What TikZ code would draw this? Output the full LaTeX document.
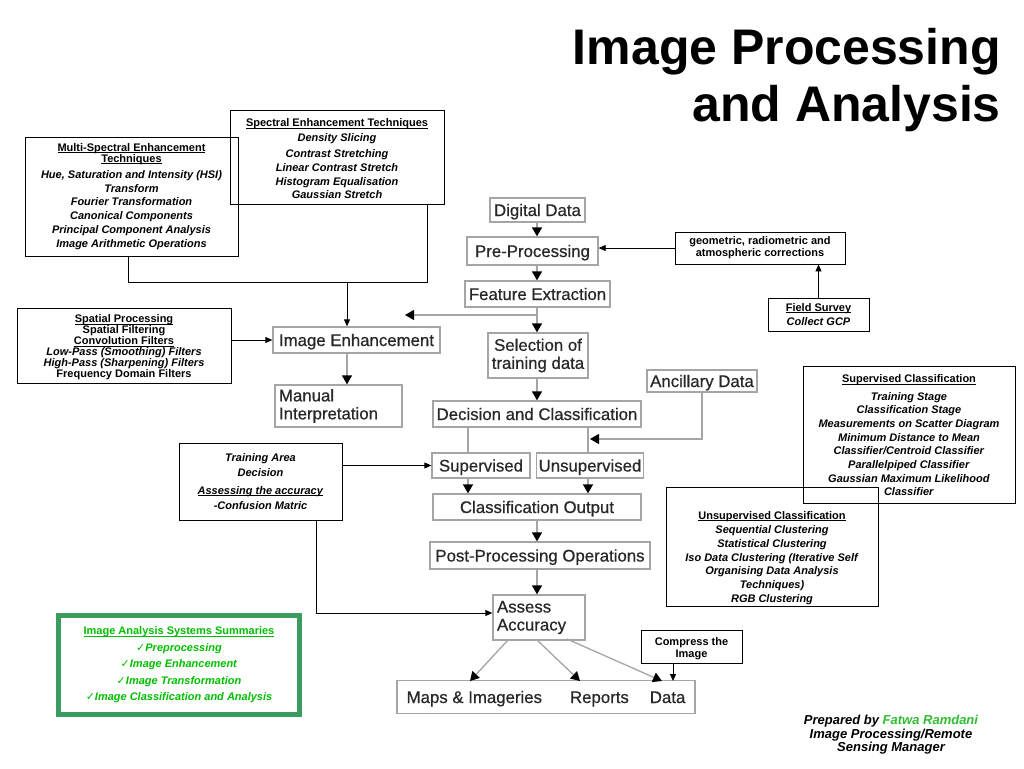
\documentclass[tikz,border=0pt]{standalone}
\usepackage{fontspec}
\setmainfont{Liberation Sans}
\newfontfamily\dejavu{DejaVu Sans}
\newfontfamily\flowfont[FakeBold=0.6]{Liberation Sans}
\usetikzlibrary{arrows.meta,calc}
\definecolor{fgray}{RGB}{165,165,165}
\definecolor{ftext}{RGB}{40,40,40}
\definecolor{gborder}{RGB}{60,155,95}
\definecolor{gtext}{RGB}{0,190,0}
\definecolor{sigreen}{RGB}{50,190,50}
\tikzset{
 fbox/.style={draw=fgray, line width=1.3pt, text=ftext, font=\flowfont\fontsize{16.8}{18}\selectfont, inner sep=2pt},
 fone/.style={fbox, text height=12pt, text depth=0pt},
 sbox/.style={draw=black, line width=0.8pt, align=center, font=\fontsize{11}{13.7}\selectfont\bfseries, inner sep=0pt},
 flow/.style={draw=fgray, line width=1.3pt, -{Triangle[length=9pt,width=10pt,color=black]}},
 gline/.style={draw=fgray, line width=1.3pt},
 barrow/.style={draw=black, line width=0.8pt, -{Triangle[length=7pt,width=6pt]}},
 bline/.style={draw=black, line width=0.8pt},
}
\newcommand{\ck}{{\dejavu\bfseries ✓}}
\newcommand{\myul}[1]{\setbox0\hbox{#1}\rlap{\rule[-1.6pt]{\wd0}{0.7pt}}\box0}
\begin{document}
\begin{tikzpicture}[x=1pt,y=-1pt]
\useasboundingbox[fill=white] (0,0) rectangle (1024,768);

% title
\node[anchor=base east, font=\fontsize{50}{57}\selectfont\bfseries, inner sep=0] (t1) at (1001,64) {Image Processing};
\node[anchor=base east, font=\fontsize{50}{57}\selectfont\bfseries, inner sep=0] (t2) at (1001,121) {and Analysis};

% flowchart boxes
\node[fone, minimum width=95, minimum height=24] (DD) at (537.5,210) {Digital Data};
\node[fone, minimum width=131, minimum height=28] (PP) at (532.5,251) {Pre-Processing};
\node[fone, minimum width=145, minimum height=26] (FE) at (537.5,294) {Feature Extraction};
\node[fbox, minimum width=100, minimum height=45, align=center] (SEL) at (538,355.5) {Selection of\\training data};
\node[fone, minimum width=208, minimum height=26] (DC) at (537,414) {Decision and Classification};
\node[fone, minimum width=110, minimum height=22] (AD) at (702,381) {Ancillary Data};
\node[fone, minimum width=98, minimum height=25] (SUP) at (481,465.5) {Supervised};
\node[fone, minimum width=106, minimum height=25] (UNS) at (590,465.5) {Unsupervised};
\node[fone, minimum width=208, minimum height=26] (CO) at (537,507) {Classification Output};
\node[fone, minimum width=220, minimum height=27] (PPO) at (540,555.5) {Post-Processing Operations};
\node[fbox, minimum width=92, minimum height=45, align=left, text width=84, inner sep=4pt] (AA) at (539,617.5) {Assess\\Accuracy};
\node[fone, minimum width=298, minimum height=33] (OUT) at (546,697) {Maps \& Imageries\hspace{28pt}Reports\hspace{21pt}Data};
\node[fone, minimum width=167, minimum height=26] (IE) at (356.5,340) {Image Enhancement};
\node[fbox, minimum width=127, minimum height=42, align=left, text width=119, inner sep=4pt] (MI) at (338.5,406) {Manual\\Interpretation};

% small black boxes
\node[sbox, minimum width=213, minimum height=119] (MS) at (131.5,196.5)
 {\myul{Multi-Spectral Enhancement}\\[-2.7pt]\myul{Techniques}\\[2.3pt]
  \textit{Hue, Saturation and Intensity (HSI)}\\\textit{Transform}\\\textit{Fourier Transformation}\\
  \textit{Canonical Components}\\\textit{Principal Component Analysis}\\\textit{Image Arithmetic Operations}};
\node[sbox, minimum width=214, minimum height=94, font=\fontsize{11}{14}\selectfont\bfseries] (SE) at (337,157)
 {\rule{0pt}{12pt}\myul{Spectral Enhancement Techniques}\\[1pt]\textit{Density Slicing}\\[2pt]\textit{Contrast Stretching}\\
  \textit{Linear Contrast Stretch}\\\textit{Histogram Equalisation}\\[-1pt]\textit{Gaussian Stretch}};
\node[sbox, minimum width=214, minimum height=75, font=\fontsize{11}{11}\selectfont\bfseries] (SPA) at (124,345.5)
 {\rule{0pt}{12pt}\myul{Spatial Processing}\\Spatial Filtering\\\myul{Convolution Filters}\\
  \textit{Low-Pass (Smoothing) Filters}\\\textit{High-Pass (Sharpening) Filters}\\Frequency Domain Filters};
\node[sbox, minimum width=170, minimum height=32, font=\fontsize{11}{12}\selectfont\bfseries] (GEO) at (760,248)
 {geometric, radiometric and\\atmospheric corrections};
\node[sbox, minimum width=101, minimum height=33, font=\fontsize{11}{14}\selectfont\bfseries] (FS) at (818.5,314.5)
 {\myul{Field Survey}\\\textit{Collect GCP}};
\node[sbox, minimum width=212, minimum height=137] (SC) at (909,434.5)
 {\rule{0pt}{10pt}\myul{Supervised Classification}\\[3.4pt]\textit{Training Stage}\\\textit{Classification Stage}\\
  \textit{Measurements on Scatter Diagram}\\\textit{Minimum Distance to Mean}\\\textit{Classifier/Centroid Classifier}\\
  \textit{Parallelpiped Classifier}\\\textit{Gaussian Maximum Likelihood}\\\textit{Classifier}};
\node[sbox, minimum width=212, minimum height=119] (UC) at (772,546.5)
 {\rule{0pt}{31pt}\myul{Unsupervised Classification}\\[0.4pt]\textit{Sequential Clustering}\\\textit{Statistical Clustering}\\
  \textit{Iso Data Clustering (Iterative Self}\\\textit{Organising Data Analysis}\\\textit{Techniques)}\\\textit{RGB Clustering}};
\node[sbox, minimum width=163, minimum height=77, font=\fontsize{11}{15}\selectfont\bfseries] (TA) at (260.5,481.5)
 {\textit{Training Area}\\\textit{Decision}\\[3pt]\myul{\textit{Assessing the accuracy}}\\\textit{-Confusion Matric}};
\node[sbox, minimum width=101, minimum height=33, font=\fontsize{11}{12}\selectfont\bfseries] (CMP) at (691.5,646.5)
 {\rule{0pt}{12pt}Compress the\\Image};

% green summary box
\node[draw=gborder, line width=5pt, minimum width=241, minimum height=99, align=center, inner sep=0pt,
      text=gtext, font=\fontsize{11}{16.5}\selectfont\bfseries] (GR) at (179,665)
 {\myul{Image Analysis Systems Summaries}\\\ck\textit{Preprocessing}\\\ck\textit{Image Enhancement}\\
  \ck\textit{Image Transformation}\\\ck\textit{Image Classification and Analysis}};

% signature
\node[align=center, inner sep=0pt, font=\fontsize{13}{13.5}\selectfont\bfseries\itshape] (SIG) at (891,735)
 {Prepared by \textcolor{sigreen}{Fatwa Ramdani}\\Image Processing/Remote\\Sensing Manager};

% coordinates
\coordinate (cx) at (537,0);
\coordinate (xs) at (468,0);
\coordinate (xu) at (588,0);
\coordinate (j1) at (128,282);
\coordinate (j2) at (427,282);
\coordinate (j3) at (347,282);
\coordinate (fej) at (537,315);
\coordinate (fetip) at (405,315);
\coordinate (adtip) at (590,439);
\coordinate (ta1) at (316,613);
\coordinate (s1) at (508,640);
\coordinate (s2) at (537,640);
\coordinate (s3) at (567,639);
\coordinate (o1) at (470,681);
\coordinate (o2) at (580,681);
\coordinate (o3) at (662,681);
\coordinate (cmpx) at (673,681);

% flow connectors
\draw[flow] (cx |- DD.south) -- (cx |- PP.north);
\draw[flow] (cx |- PP.south) -- (cx |- FE.north);
\draw[flow] (cx |- FE.south) -- (cx |- SEL.north);
\draw[flow] (fej) -- (fetip);
\draw[flow] (cx |- SEL.south) -- (cx |- DC.north);
\draw[gline] (xs |- DC.south) -- (xs |- SUP.north);
\draw[gline] (xu |- DC.south) -- (xu |- UNS.north);
\draw[flow] (AD.south) |- (adtip);
\draw[flow] (xs |- SUP.south) -- (xs |- CO.north);
\draw[flow] (xu |- UNS.south) -- (xu |- CO.north);
\draw[flow] (cx |- CO.south) -- (cx |- PPO.north);
\draw[flow] (cx |- PPO.south) -- (cx |- AA.north);
\draw[flow] (s1) -- (o1);
\draw[flow] (s2) -- (o2);
\draw[flow] (s3) -- (o3);
\draw[flow] (IE.south -| j3) -- (MI.north -| j3);

% black connectors
\draw[bline] (MS.south -| j1) -- (j1) -- (j2) -- (SE.south -| j2);
\draw[barrow] (j3) -- (j3 |- IE.north);
\draw[barrow] (IE.west -| SPA.east) -- (IE.west);
\draw[barrow] (GEO.west) -- (GEO.west -| PP.east);
\draw[barrow] (FS.north) -- (FS.north |- GEO.south);
\draw[barrow] (TA.east |- SUP.west) -- (SUP.west);
\draw[barrow] (TA.south -| ta1) |- (AA.west |- ta1);
\draw[barrow] (CMP.south -| cmpx) -- (cmpx);
\end{tikzpicture}
\end{document}
